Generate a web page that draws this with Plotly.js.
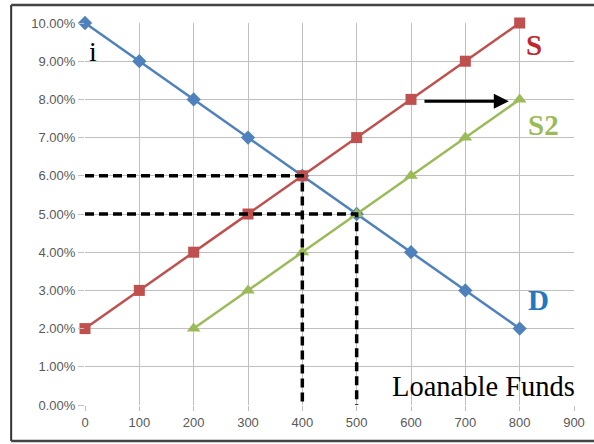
<!DOCTYPE html>
<html>
<head>
<meta charset="utf-8">
<script src="https://cdn.plot.ly/plotly-3.0.1.min.js"></script>
<style>html,body{margin:0;padding:0;background:#fff;}#chart{width:594px;height:444px;}</style>
</head>
<body>
<div id="chart"></div>
<script>
// Data
const dX = [0, 100, 200, 300, 400, 500, 600, 700, 800];
const dY = [0.10, 0.09, 0.08, 0.07, 0.06, 0.05, 0.04, 0.03, 0.02];
const sX = [0, 100, 200, 300, 400, 500, 600, 700, 800];
const sY = [0.02, 0.03, 0.04, 0.05, 0.06, 0.07, 0.08, 0.09, 0.10];
const s2X = [200, 300, 400, 500, 600, 700, 800];
const s2Y = [0.02, 0.03, 0.04, 0.05, 0.06, 0.07, 0.08];
const eq1 = {x: 400, y: 0.06};
const eq2 = {x: 500, y: 0.05};
const shiftFrom = {x: 622, y: 0.0795};
const shiftTo = {x: 780, y: 0.0795};
const xTicks = [0, 100, 200, 300, 400, 500, 600, 700, 800, 900];
const yTicks = [0, 0.01, 0.02, 0.03, 0.04, 0.05, 0.06, 0.07, 0.08, 0.09, 0.10];

const blue = '#4f81bd', red = '#c0504d', green = '#9bbb59';

const traces = [
  {x: dX, y: dY, mode: 'lines+markers', line: {color: blue, width: 2.5},
   marker: {symbol: 'diamond', size: 11, color: blue}, cliponaxis: false},
  {x: sX, y: sY, mode: 'lines+markers', line: {color: red, width: 2.5},
   marker: {symbol: 'square', size: 11, color: red}, cliponaxis: false},
  {x: s2X, y: s2Y, mode: 'lines+markers', line: {color: green, width: 2.5},
   marker: {symbol: 'triangle-up', size: 12, color: green}, cliponaxis: false},
  {x: [0, eq1.x, eq1.x], y: [eq1.y, eq1.y, 0], mode: 'lines',
   line: {color: '#000', width: 3.5, dash: '9px,5px'}, cliponaxis: false},
  {x: [0, eq2.x, eq2.x], y: [eq2.y, eq2.y, 0], mode: 'lines',
   line: {color: '#000', width: 3.5, dash: '9px,5px'}, cliponaxis: false}
];

const serif = 'Liberation Serif, Times New Roman, serif';
const tickFont = {family: 'Liberation Sans, Arial, sans-serif', size: 13, color: '#595959'};
const layout = {
  width: 594, height: 444,
  margin: {l: 85, r: 20, t: 23, b: 39},
  showlegend: false,
  paper_bgcolor: '#fff', plot_bgcolor: '#fff',
  xaxis: {range: [0, 900], tickvals: xTicks, ticktext: xTicks.map(String),
    showgrid: true, gridcolor: '#bfbfbf', gridwidth: 1, zeroline: false,
    showline: false, ticks: 'outside', ticklen: 5, tickcolor: '#bfbfbf',
    tickfont: tickFont},
  yaxis: {range: [0, 0.10], tickvals: yTicks, tickformat: '.2%',
    showgrid: true, gridcolor: '#bfbfbf', gridwidth: 1, zeroline: false,
    showline: false, ticks: 'outside', ticklen: 6, tickcolor: '#bfbfbf',
    tickfont: tickFont},
  shapes: [
    {type: 'line', xref: 'paper', yref: 'paper', x0: -0.151, x1: -0.151, y0: -0.094, y1: 1.047,
     line: {color: '#333', width: 2}},
    {type: 'line', xref: 'paper', yref: 'paper', x0: -0.151, x1: 1.05, y0: 1.047, y1: 1.047,
     line: {color: '#444', width: 2.5}},
    {type: 'line', xref: 'paper', yref: 'paper', x0: -0.151, x1: 1.05, y0: -0.094, y1: -0.094,
     line: {color: '#444', width: 2.5}}
  ],
  annotations: [
    {x: 826, y: 0.0942, xref: 'x', yref: 'y', text: '<b>S</b>', showarrow: false,
     font: {family: serif, size: 29, color: '#c0282d'}},
    {x: 843, y: 0.0733, xref: 'x', yref: 'y', text: '<b>S2</b>', showarrow: false,
     font: {family: serif, size: 29, color: green}},
    {x: 834, y: 0.0275, xref: 'x', yref: 'y', text: '<b>D</b>', showarrow: false,
     font: {family: serif, size: 29, color: '#1f78c1'}},
    {x: 15, y: 0.0925, xref: 'x', yref: 'y', text: 'i', showarrow: false,
     font: {family: serif, size: 28, color: '#000'}},
    {x: 733, y: 0.0048, xref: 'x', yref: 'y', text: 'Loanable Funds', showarrow: false,
     font: {family: serif, size: 28.5, color: '#000'}},
    {x: shiftTo.x, y: shiftTo.y, ax: shiftFrom.x, ay: shiftFrom.y, xref: 'x', yref: 'y',
     axref: 'x', ayref: 'y', text: '', showarrow: true, arrowhead: 2, arrowsize: 1,
     arrowwidth: 3, arrowcolor: '#000', standoff: 0, startstandoff: 0}
  ]
};

Plotly.newPlot('chart', traces, layout, {staticPlot: true, displayModeBar: false});
</script>
</body>
</html>
